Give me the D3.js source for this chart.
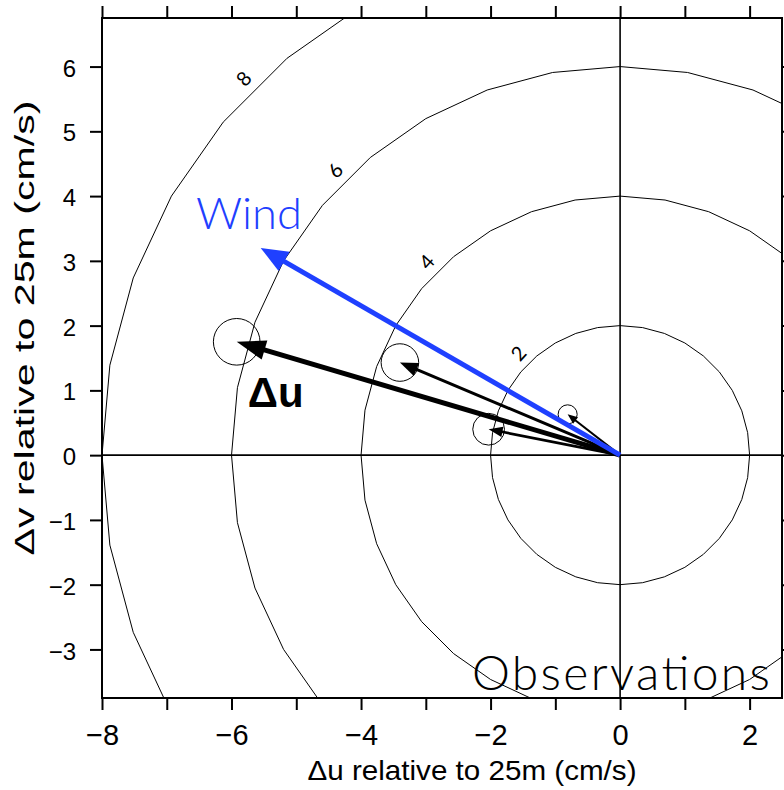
<!DOCTYPE html>
<html>
<head>
<meta charset="utf-8">
<script src="https://cdn.jsdelivr.net/npm/d3@7"></script>
<style>
  body { margin: 0; background: #fff; }
  svg { display: block; }
</style>
</head>
<body>
<svg id="chart" width="784" height="790"></svg>
<script>
// ---- data -------------------------------------------------------------
// axis ticks (cm/s)
const xTickValues = [-8, -7, -6, -5, -4, -3, -2, -1, 0, 1, 2];
const xTickLabels = [-8, -6, -4, -2, 0, 2];
const yTickValues = [-3, -2, -1, 0, 1, 2, 3, 4, 5, 6];
const yTickLabels = [-3, -2, -1, 0, 1, 2, 3, 4, 5, 6];

// speed rings |Δu| (cm/s), traced every 10 degrees
const speedLevels = [2, 4, 6, 8];
const ringAngles = [0, 10, 20, 30, 40, 50, 60, 70, 80, 90, 100, 110, 120, 130, 140, 150, 160, 170,
                    180, 190, 200, 210, 220, 230, 240, 250, 260, 270, 280, 290, 300, 310, 320, 330, 340, 350];

// observed shear vectors relative to 25 m (cm/s) and their uncertainty radii
const shearU = [-5.92, -3.40, -2.03, -0.81];
const shearV = [1.75, 1.43, 0.40, 0.63];
const shearErr = [0.36, 0.29, 0.245, 0.147];

// wind direction vector, drawn at the same scale
const windU = [-5.55];
const windV = [3.20];

// ---- styling (kept apart from the data) ------------------------------
const shearStroke = [5, 3, 2.6, 2];
const shearHeadLen = [29, 18, 14, 10];
const shearHeadHalf = [10, 7, 5.2, 4];
const windColor = "#1f40ff";
const axisFont = "'Liberation Sans', Arial, Helvetica, sans-serif";
const labelFont = "Lato, 'Open Sans', sans-serif";

// ---- layout ------------------------------------------------------------
const svg = d3.select("#chart");
const plotLeft = 102, plotTop = 18, plotSize = 680;
const x = d3.scaleLinear().domain([-8, 2.5]).range([plotLeft, plotLeft + plotSize]);
const y = d3.scaleLinear().domain([-3.75, 6.75]).range([plotTop + plotSize, plotTop]);

svg.append("rect").attr("width", 784).attr("height", 790).attr("fill", "#fff");

svg.append("defs").append("clipPath").attr("id", "plotClip")
  .append("rect")
  .attr("x", x(-8)).attr("y", y(6.75))
  .attr("width", x(2.5) - x(-8)).attr("height", y(-3.75) - y(6.75));

const plot = svg.append("g").attr("clip-path", "url(#plotClip)");

// ---- speed rings -------------------------------------------------------
const ring = d3.line()
  .x(d => x(d.r * Math.cos(d.a * Math.PI / 180)))
  .y(d => y(d.r * Math.sin(d.a * Math.PI / 180)))
  .curve(d3.curveLinearClosed);

speedLevels.forEach(lev => {
  plot.append("path")
    .attr("d", ring(ringAngles.map(a => ({ r: lev, a }))))
    .attr("fill", "none")
    .attr("stroke", "#000")
    .attr("stroke-width", 1);
});

// ring labels along the 135° direction, just outside each ring
speedLevels.forEach(lev => {
  const r = lev + 0.22;
  const lu = -r * Math.SQRT1_2, lv = r * Math.SQRT1_2;
  plot.append("text")
    .attr("transform", `translate(${x(lu)},${y(lv)}) rotate(-48)`)
    .attr("text-anchor", "middle")
    .attr("dy", "0.36em")
    .attr("font-family", labelFont)
    .attr("font-size", 20)
    .attr("fill", "#000")
    .text(lev);
});

// zero lines
plot.append("line")
  .attr("x1", x(-8)).attr("x2", x(2.5)).attr("y1", y(0)).attr("y2", y(0))
  .attr("stroke", "#000").attr("stroke-width", 1.8);
plot.append("line")
  .attr("x1", x(0)).attr("x2", x(0)).attr("y1", y(-3.75)).attr("y2", y(6.75))
  .attr("stroke", "#000").attr("stroke-width", 1.6);

// ---- vectors ---------------------------------------------------------------
function arrow(g, u, v, color, width, headLen, headHalf) {
  const x0 = x(0), y0 = y(0), x1 = x(u), y1 = y(v);
  const dx = x1 - x0, dy = y1 - y0, len = Math.hypot(dx, dy);
  const ux = dx / len, uy = dy / len;
  const bx = x1 - ux * headLen, by = y1 - uy * headLen;
  g.append("line")
    .attr("x1", x0).attr("y1", y0)
    .attr("x2", bx + ux * 2).attr("y2", by + uy * 2)
    .attr("stroke", color).attr("stroke-width", width);
  g.append("path")
    .attr("d", `M${x1},${y1}L${bx - uy * headHalf},${by + ux * headHalf}L${bx + uy * headHalf},${by - ux * headHalf}Z`)
    .attr("fill", color);
}

// uncertainty circles
shearU.forEach((u, i) => {
  plot.append("circle")
    .attr("cx", x(u)).attr("cy", y(shearV[i]))
    .attr("r", x(shearErr[i]) - x(0))
    .attr("fill", "none").attr("stroke", "#000").attr("stroke-width", 1);
});

shearU.forEach((u, i) => {
  arrow(plot, u, shearV[i], "#000", shearStroke[i], shearHeadLen[i], shearHeadHalf[i]);
});
windU.forEach((u, i) => {
  arrow(plot, u, windV[i], windColor, 5, 27, 11);
});

// in-plot labels
plot.append("text")
  .attr("x", x(-6.55)).attr("y", y(3.49))
  .attr("font-family", labelFont).attr("font-weight", 300)
  .attr("font-size", 43).attr("fill", windColor)
  .attr("textLength", 106).attr("lengthAdjust", "spacingAndGlyphs")
  .text("Wind");

plot.append("text")
  .attr("x", x(-5.75)).attr("y", y(0.74))
  .attr("font-family", axisFont).attr("font-weight", "bold")
  .attr("font-size", 42).attr("fill", "#000")
  .text("Δu");

plot.append("text")
  .attr("x", 472).attr("y", 690)
  .attr("font-family", labelFont).attr("font-weight", 300)
  .attr("font-size", 48).attr("fill", "#000")
  .attr("textLength", 298).attr("lengthAdjust", "spacing")
  .text("Observations");

// ---- frame and axes -------------------------------------------------------
const tickLen = 12;
const fmt = d => (d < 0 ? "\u2212" + Math.abs(d) : String(d));

const gBottom = svg.append("g").attr("transform", `translate(0,${y(-3.75)})`)
  .call(d3.axisBottom(x).tickValues(xTickValues).tickSize(tickLen).tickPadding(14)
    .tickFormat(d => xTickLabels.includes(d) ? fmt(d) : ""));
const gTop = svg.append("g").attr("transform", `translate(0,${y(6.75)})`)
  .call(d3.axisTop(x).tickValues(xTickValues).tickSize(tickLen).tickFormat(""));
const gLeft = svg.append("g").attr("transform", `translate(${x(-8)},0)`)
  .call(d3.axisLeft(y).tickValues(yTickValues).tickSize(tickLen).tickPadding(14)
    .tickFormat(d => yTickLabels.includes(d) ? fmt(d) : ""));
const gRight = svg.append("g").attr("transform", `translate(${x(2.5)},0)`)
  .call(d3.axisRight(y).tickValues(yTickValues).tickSize(tickLen).tickFormat(""));

[gBottom, gTop, gLeft, gRight].forEach(g => {
  g.select(".domain").remove();
  g.selectAll(".tick line").attr("stroke", "#000").attr("stroke-width", 2);
});
gBottom.selectAll(".tick text")
  .attr("font-family", axisFont).attr("font-size", 29).attr("fill", "#000");
gLeft.selectAll(".tick text")
  .attr("font-family", axisFont).attr("font-size", 24).attr("fill", "#000")
  .attr("dy", "0.4em");

svg.append("rect")
  .attr("x", x(-8)).attr("y", y(6.75))
  .attr("width", x(2.5) - x(-8)).attr("height", y(-3.75) - y(6.75))
  .attr("fill", "none").attr("stroke", "#000").attr("stroke-width", 2);

// axis titles
svg.append("text")
  .attr("x", 472).attr("y", 780)
  .attr("text-anchor", "middle")
  .attr("font-family", axisFont).attr("font-size", 28).attr("fill", "#000")
  .attr("textLength", 329).attr("lengthAdjust", "spacingAndGlyphs")
  .text("Δu relative to 25m (cm/s)");

svg.append("text")
  .attr("transform", "translate(34,328) rotate(-90)")
  .attr("text-anchor", "middle")
  .attr("font-family", axisFont).attr("font-size", 27).attr("fill", "#000")
  .attr("textLength", 455).attr("lengthAdjust", "spacingAndGlyphs")
  .text("Δv relative to 25m (cm/s)");
</script>
</body>
</html>
